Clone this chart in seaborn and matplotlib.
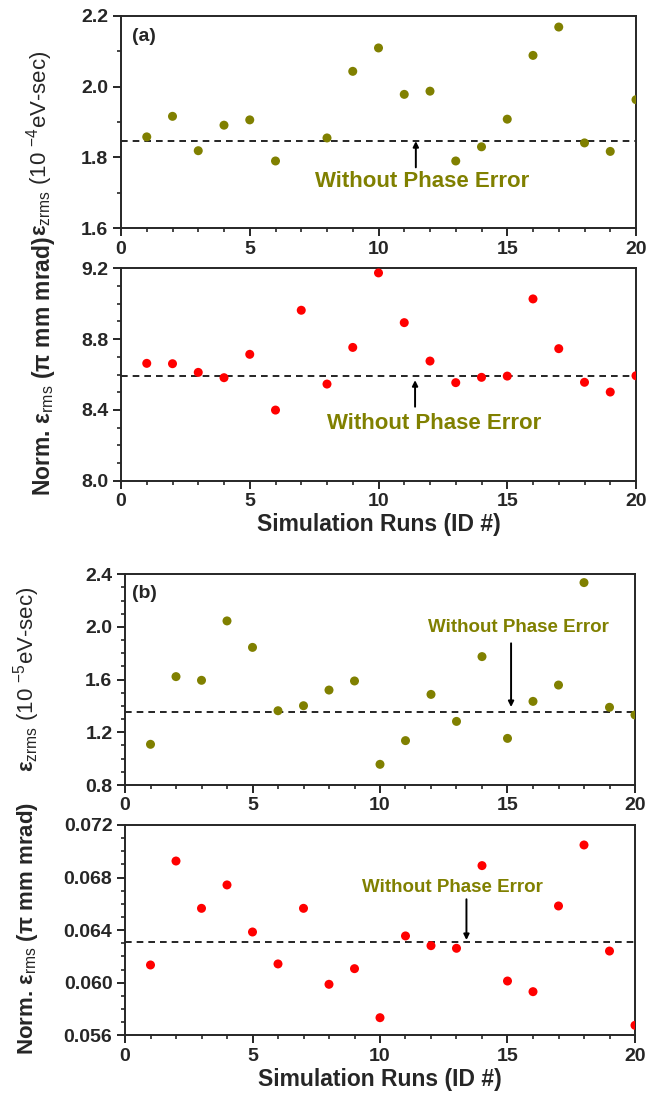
import numpy as np
import pandas as pd
import matplotlib
matplotlib.use("Agg")
import matplotlib.pyplot as plt
from matplotlib.ticker import MultipleLocator, FormatStrFormatter
import seaborn as sns

# ---------------- data ----------------
runs = list(range(1, 21))
eps_z_a = [1.858, 1.916, 1.819, 1.891, 1.906, 1.790, np.nan, 1.855, 2.043, 2.109,
           1.978, 1.987, 1.790, 1.830, 1.908, 2.088, 2.168, 1.841, 1.817, 1.963]
eps_n_a = [8.663, 8.661, 8.612, 8.582, 8.714, 8.399, 8.963, 8.546, 8.753, 9.174,
           8.893, 8.676, 8.554, 8.584, 8.591, 9.027, 8.746, 8.556, 8.501, 8.593]
eps_z_b = [1.109, 1.623, 1.595, 2.046, 1.845, 1.364, 1.402, 1.521, 1.590, 0.957,
           1.137, 1.488, 1.283, 1.775, 1.154, 1.435, 1.559, 2.337, 1.390, 1.332]
eps_n_b = [0.06135, 0.06926, 0.06566, 0.06744, 0.06386, 0.06143, 0.06566, 0.05988,
           0.06107, 0.05734, 0.06356, 0.06282, 0.06262, 0.06891, 0.06013, 0.05932,
           0.06584, 0.07048, 0.06241, 0.05676]
ref_values = [1.846, 8.590, 1.354, 0.0631]
ref_text = "Without Phase Error"

OLIVE = "#808000"
RED = "#ff0000"

sns.set_style("ticks")
plt.rcParams["font.family"] = ["Liberation Sans", "DejaVu Sans"]
plt.rcParams["mathtext.fontset"] = "custom"
plt.rcParams["mathtext.rm"] = "Liberation Sans"
plt.rcParams["mathtext.bf"] = "Liberation Sans:bold"
plt.rcParams["mathtext.it"] = "Liberation Sans:italic"
plt.rcParams["axes.linewidth"] = 1.4

W, H = 657, 1095
fig = plt.figure(figsize=(W / 100, H / 100), dpi=100)


def add_ax(left, right, top, bottom):
    return fig.add_axes([left / W, 1 - bottom / H, (right - left) / W, (bottom - top) / H])


ax1 = add_ax(121, 636, 15.7, 228.3)
ax2 = add_ax(121, 636, 268.3, 480.7)
ax3 = add_ax(125, 635, 574.3, 785.0)
ax4 = add_ax(125, 635, 825.0, 1035.3)

panels = [
    (ax1, eps_z_a, OLIVE, (1.6, 2.2), 0.2, 0.1, "%.1f"),
    (ax2, eps_n_a, RED, (8.0, 9.2), 0.4, 0.1, "%.1f"),
    (ax3, eps_z_b, OLIVE, (0.8, 2.4), 0.4, 0.1, "%.1f"),
    (ax4, eps_n_b, RED, (0.056, 0.072), 0.004, 0.001, "%.3f"),
]

for (ax, vals, col, ylim, major, minor, fmt), ref in zip(panels, ref_values):
    df = pd.DataFrame({"run": runs, "val": vals})
    sns.scatterplot(data=df, x="run", y="val", ax=ax, color=col, s=42,
                    edgecolor="none", linewidth=0, zorder=3)
    ax.axhline(ref, color="black", lw=1.2, ls=(0, (4, 3)), zorder=2)
    ax.set_xlim(0, 20)
    ax.set_ylim(*ylim)
    ax.xaxis.set_major_locator(MultipleLocator(5))
    ax.xaxis.set_minor_locator(MultipleLocator(1))
    ax.yaxis.set_major_locator(MultipleLocator(major))
    ax.yaxis.set_minor_locator(MultipleLocator(minor))
    ax.yaxis.set_major_formatter(FormatStrFormatter(fmt))
    ax.tick_params(axis="both", which="major", direction="out", length=6, width=1.4,
                   labelsize=14, pad=3, top=False, right=False)
    ax.tick_params(axis="both", which="minor", direction="out", length=3, width=1.2,
                   top=False, right=False)
    for lab in ax.get_xticklabels() + ax.get_yticklabels():
        lab.set_fontweight("bold")
    for sp in ax.spines.values():
        sp.set_visible(True)
        sp.set_linewidth(1.4)
    ax.set_xlabel("")

# y labels
ax1.set_ylabel(r"$\mathbf{ε}_{\mathrm{zrms}}$ (10 $^{\mathrm{-4}}$eV-sec)", fontsize=16)
ax2.set_ylabel(r"Norm. $\mathbf{ε}_{\mathrm{rms}}$ (π mm mrad)", fontsize=16.5, fontweight="bold")
ax3.set_ylabel(r"$\mathbf{ε}_{\mathrm{zrms}}$ (10 $^{\mathrm{-5}}$eV-sec)", fontsize=16)
ax4.set_ylabel(r"Norm. $\mathbf{ε}_{\mathrm{rms}}$ (π mm mrad)", fontsize=16, fontweight="bold")
ax1.yaxis.set_label_coords(-0.128, 0.40)
ax2.yaxis.set_label_coords(-0.124, 0.54)
ax3.yaxis.set_label_coords(-0.163, 0.50)
ax4.yaxis.set_label_coords(-0.167, 0.51)

# x labels
ax2.set_xlabel("Simulation Runs (ID #)", fontsize=16.5, fontweight="bold", labelpad=2)
ax4.set_xlabel("Simulation Runs (ID #)", fontsize=16.5, fontweight="bold", labelpad=2)

# panel tags
ax1.text(0.42, 2.165, "(a)", fontsize=14, fontweight="bold", va="top", ha="left")
ax3.text(0.26, 2.32, "(b)", fontsize=14, fontweight="bold", va="top", ha="left")

arrow = dict(arrowstyle="-|>", color="black", lw=1.4, mutation_scale=8,
             shrinkA=0, shrinkB=0)

# annotations
ax1.annotate("", xy=(11.45, 1.846), xytext=(11.45, 1.772), arrowprops=arrow)
ax1.text(11.68, 1.733, ref_text, color=OLIVE, fontsize=16, fontweight="bold",
         ha="center", va="center")

ax2.annotate("", xy=(11.42, 8.568), xytext=(11.42, 8.418), arrowprops=arrow)
ax2.text(12.16, 8.324, ref_text, color=OLIVE, fontsize=16, fontweight="bold",
         ha="center", va="center")

ax3.annotate("", xy=(15.14, 1.392), xytext=(15.14, 1.876), arrowprops=arrow)
ax3.text(15.41, 1.995, ref_text, color=OLIVE, fontsize=13.5, fontweight="bold",
         ha="center", va="center")

ax4.annotate("", xy=(13.39, 0.06325), xytext=(13.39, 0.06635), arrowprops=arrow)
ax4.text(12.85, 0.06723, ref_text, color=OLIVE, fontsize=13.5, fontweight="bold",
         ha="center", va="center")

fig.savefig("out.png", dpi=100)
